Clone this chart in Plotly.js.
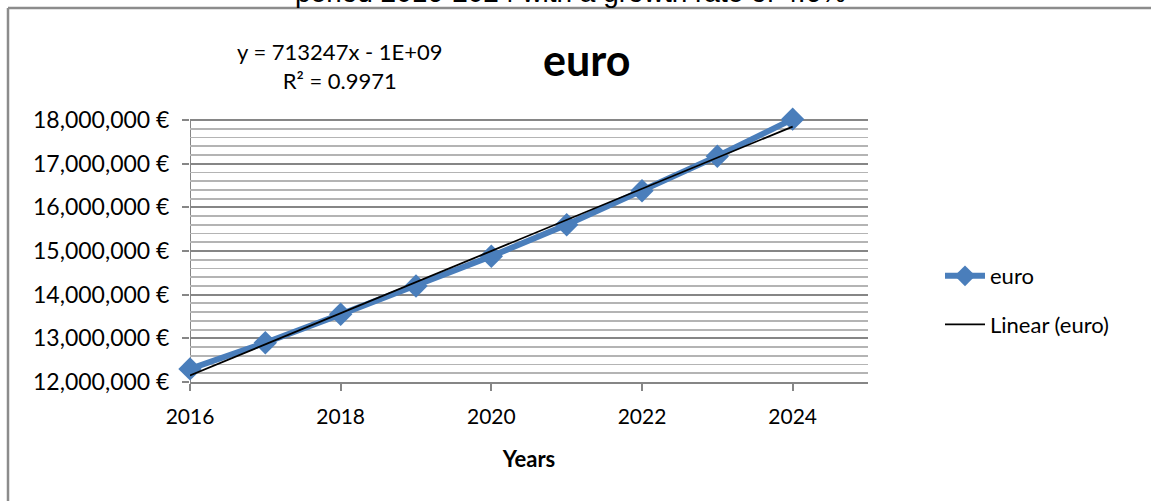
<!DOCTYPE html>
<html>
<head>
<meta charset="utf-8">
<script src="https://cdn.plot.ly/plotly-3.0.1.min.js"></script>
<style>html,body{margin:0;padding:0;background:#fff;}#chart{width:1151px;height:501px;}</style>
</head>
<body>
<div id="chart"></div>
<script>
const years = [2016, 2017, 2018, 2019, 2020, 2021, 2022, 2023, 2024];
const euro = [12300000, 12900000, 13550000, 14200000, 14880000, 15600000, 16380000, 17170000, 18020000];
const xTicks = [2016, 2018, 2020, 2022, 2024];
const yTicks = [12000000, 13000000, 14000000, 15000000, 16000000, 17000000, 18000000];
const chartTitle = "euro";
const equationText = "y = 713247x - 1E+09<br>R² = 0.9971";
const cutTitle = "period 2016-2024 with a growth rate of 4.6%";

// least-squares linear trend computed from the data
const n = years.length;
const mx = years.reduce((a, b) => a + b, 0) / n;
const my = euro.reduce((a, b) => a + b, 0) / n;
let sxy = 0, sxx = 0;
for (let i = 0; i < n; i++) { sxy += (years[i] - mx) * (euro[i] - my); sxx += (years[i] - mx) ** 2; }
const slope = sxy / sxx;
const intercept = my - slope * mx;
const trend = years.map(x => slope * x + intercept);

const font = "Lato, 'Open Sans', sans-serif";
const plotTop = 116, plotBottom = 382;
const plotH = plotBottom - plotTop;
const px = v => (v - 190) / 678;              // page x -> paper x
const py = v => (plotBottom - v) / plotH;     // page y -> paper y
// y range extended a few px above 18M so the last marker is not hidden; 18M stays at page y 120
const yMax = 12000000 + 6000000 * plotH / (plotBottom - 120);

const traces = [
  {
    x: years, y: euro, name: "euro", type: "scatter", mode: "lines+markers",
    legendgroup: "a", cliponaxis: false,
    line: {color: "#4A7EBB", width: 6},
    marker: {symbol: "diamond", size: 18, color: "#4A7EBB"}
  },
  {
    x: years, y: trend, name: "Linear (euro)", type: "scatter", mode: "lines",
    legendgroup: "b", cliponaxis: false,
    line: {color: "#000000", width: 1.8}
  }
];

const layout = {
  width: 1151, height: 501,
  margin: {l: 190, r: 283, t: plotTop, b: 501 - plotBottom},
  paper_bgcolor: "#ffffff", plot_bgcolor: "#ffffff",
  font: {family: font, size: 20, color: "#000"},
  showlegend: true,
  legend: {x: px(940), y: py(255), xanchor: "left", yanchor: "top",
           font: {family: font, size: 22, color: "#000"}, tracegroupgap: 17, itemwidth: 40,
           bgcolor: "rgba(0,0,0,0)"},
  xaxis: {
    range: [2016, 2025], tickvals: xTicks, ticktext: xTicks.map(String),
    showgrid: false, zeroline: false,
    showline: true, linecolor: "#868686", linewidth: 2,
    ticks: "outside", ticklen: 7, tickwidth: 2, tickcolor: "#868686",
    ticklabelstandoff: 8,
    tickfont: {family: font, size: 21, color: "#000"},
    title: {text: "<b>Years</b>", font: {family: font, size: 22, color: "#000"}, standoff: 24}
  },
  yaxis: {
    range: [12000000, yMax], tickvals: yTicks,
    ticktext: yTicks.map(v => v.toLocaleString("en-US") + " €"),
    showgrid: true, gridcolor: "#868686", gridwidth: 2,
    minor: {dtick: 200000, showgrid: true, gridcolor: "#b4b4b4", gridwidth: 1.8},
    zeroline: false,
    showline: false,
    ticks: "outside", ticklen: 7, tickwidth: 2, tickcolor: "#868686",
    ticklabelstandoff: 8,
    tickfont: {family: font, size: 23, color: "#000"}
  },
  annotations: [
    {text: "<b>" + chartTitle + "</b>", xref: "paper", yref: "paper", x: px(586), y: py(59),
     xanchor: "center", yanchor: "middle",
     showarrow: false, font: {family: font, size: 43, color: "#000"}},
    {text: equationText, xref: "paper", yref: "paper", x: px(340), y: py(66),
     xanchor: "center", yanchor: "middle",
     showarrow: false, font: {family: font, size: 22, color: "#000"}, align: "center"},
    {text: cutTitle, xref: "paper", yref: "paper", x: px(293), y: py(10),
     xanchor: "left", yanchor: "bottom", showarrow: false,
     font: {family: "Liberation Sans, Arial, sans-serif", size: 28, color: "#000"}}
  ],
  shapes: [
    // y axis line from 12M to 18M
    {type: "line", xref: "x", yref: "y", x0: 2016, x1: 2016, y0: 12000000, y1: 18000000,
     line: {color: "#868686", width: 2}, layer: "below"},
    {type: "line", xref: "paper", yref: "paper", x0: px(8), x1: px(8), y0: py(8), y1: -1,
     line: {color: "#8c8c8c", width: 2.5}},
    {type: "line", xref: "paper", yref: "paper", x0: px(8), x1: 2, y0: py(8), y1: py(8),
     line: {color: "#8c8c8c", width: 2.5}}
  ]
};

Plotly.newPlot("chart", traces, layout, {displayModeBar: false, staticPlot: true});
</script>
</body>
</html>
